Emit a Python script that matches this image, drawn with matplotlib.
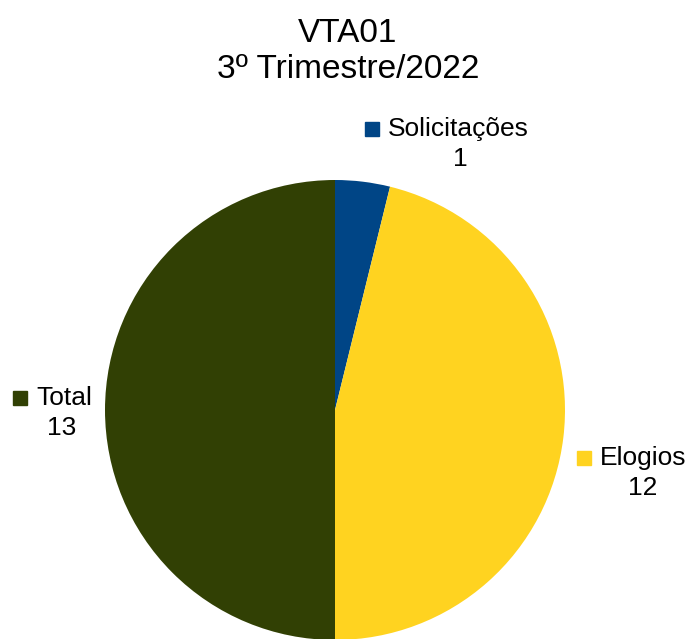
import matplotlib.pyplot as plt

plt.rcParams["font.family"] = ["Liberation Sans", "DejaVu Sans"]

labels = ["Solicitações", "Elogios", "Total"]
values = [1, 12, 13]
colors = ["#004586", "#ffd320", "#314004"]

fig = plt.figure(figsize=(6.89, 6.39), dpi=100)
ax = fig.add_axes([0, 0, 1, 1])

# pie centre / radius in pixel units (y up)
cx, cy, r = 335, 639 - 410, 230
ax.pie(values, colors=colors, startangle=90, counterclock=False,
       center=(cx, cy), radius=r, frame=True,
       wedgeprops=dict(linewidth=0))
ax.set_xlim(0, 689)
ax.set_ylim(0, 639)
ax.set_aspect("equal")
ax.axis("off")

fig.text(348 / 689, 1 - 33 / 639, "VTA01", ha="center", va="center", fontsize=24)
fig.text(348 / 689, 1 - 70 / 639, "3º Trimestre/2022", ha="center", va="center", fontsize=24)

# labels: (square x, line1 y, number centre x)
lab_pos = [(372, 129, 460), (584, 458, 643), (20, 398, 62)]
for (sx, ly, nx), lab, val, col in zip(lab_pos, labels, values, colors):
    ax.add_patch(plt.Rectangle((sx - 7, 639 - ly - 7), 14, 14, color=col))
    ax.text(sx + 16, 639 - ly, lab, ha="left", va="center", fontsize=19)
    ax.text(nx, 639 - ly - 30, str(val), ha="center", va="center", fontsize=19)

fig.savefig("out.png", dpi=100)
